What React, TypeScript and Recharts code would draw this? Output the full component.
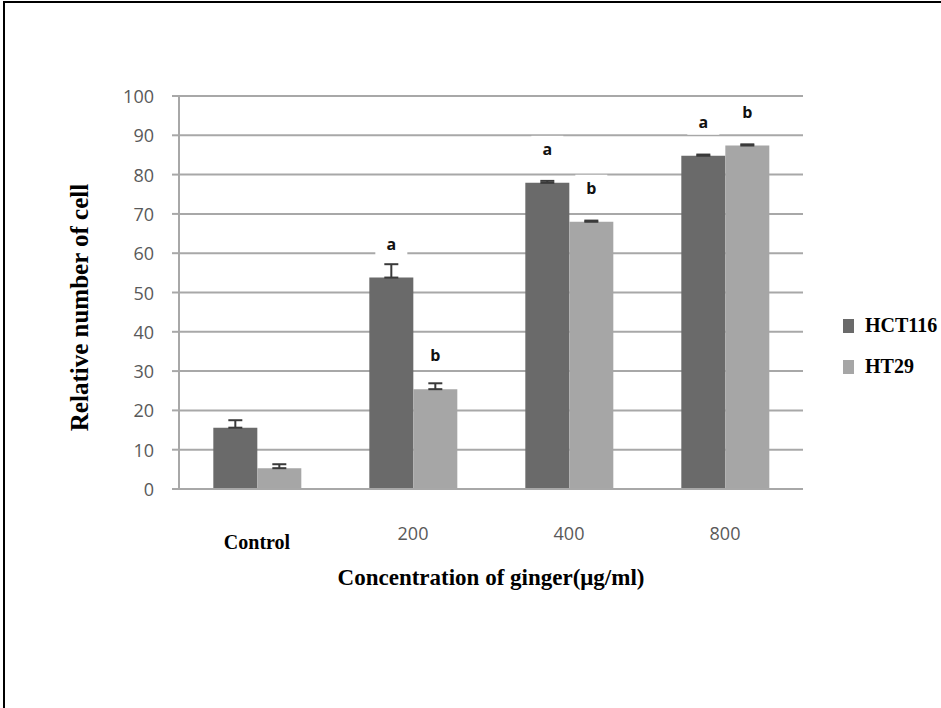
import React from 'react';
import { BarChart, Bar, XAxis, YAxis, CartesianGrid, ErrorBar, LabelList } from 'recharts';

// Concentration groups
const categories = ['Control', '200', '400', '800'];
// Relative number of cells per cell line
const hct116 = [15.6, 53.8, 77.9, 84.8];
const ht29 = [5.3, 25.4, 68.0, 87.4];
// Upper error (SD) per bar
const hct116Err = [1.9, 3.4, 0.5, 0.3];
const ht29Err = [1.0, 1.5, 0.3, 0.3];
// Significance letters
const hct116Sig = ['', 'a', 'a', 'a'];
const ht29Sig = ['', 'b', 'b', 'b'];
const yTicks = [0, 10, 20, 30, 40, 50, 60, 70, 80, 90, 100];
const seriesNames = ['HCT116', 'HT29'];

const data = categories.map((c, i) => ({
  name: c,
  hct: hct116[i],
  ht: ht29[i],
  hctErr: [0, hct116Err[i]],
  htErr: [0, ht29Err[i]],
  hctSig: hct116Sig[i],
  htSig: ht29Sig[i],
}));

const DARK = '#6a6a6a';
const LIGHT = '#a6a6a6';
const GRID = '#a8a8a8';
const SERIF = '"Liberation Serif", "Times New Roman", serif';
const SANS = '"Open Sans", "Noto Sans", sans-serif';

const SigLabel = (props: any) => {
  const { x, y, width, value } = props;
  if (!value) return null;
  const cx = x + width / 2;
  const cy = y - 34;
  return (
    <g>
      <rect x={cx - 16} y={cy - 13} width={32} height={26} fill="#fff" />
      <text x={cx} y={cy} textAnchor="middle" dominantBaseline="central" fontFamily={SANS} fontWeight={700} fontSize={16} fill="#111">
        {value}
      </text>
    </g>
  );
};

const XTick = (props: any) => {
  const { x, y, payload } = props;
  if (payload.value === 'Control') {
    return (
      <text x={x} y={y + 45} textAnchor="middle" dominantBaseline="central" fontFamily={SERIF} fontWeight={700} fontSize={20} fill="#000">
        {payload.value}
      </text>
    );
  }
  return (
    <text x={x} y={y + 36} textAnchor="middle" dominantBaseline="central" fontFamily={SANS} fontSize={18} fill="#595959">
      {payload.value}
    </text>
  );
};

const YTick = (props: any) => {
  const { x, y, payload } = props;
  return (
    <text x={x - 16} y={y} textAnchor="end" dominantBaseline="central" fontFamily={SANS} fontSize={18} fill="#595959">
      {payload.value}
    </text>
  );
};

const YTitle = (props: any) => {
  const { viewBox } = props;
  const cx = viewBox.x - 40;
  const cy = viewBox.y + viewBox.height / 2 + 15;
  return (
    <text x={cx} y={cy} transform={`rotate(-90 ${cx} ${cy})`} textAnchor="middle" dominantBaseline="central" fontFamily={SERIF} fontWeight={700} fontSize={25} fill="#000">
      Relative number of cell
    </text>
  );
};

const XTitle = (props: any) => {
  const { viewBox } = props;
  const cx = viewBox.x + viewBox.width / 2;
  const cy = viewBox.y + 88;
  return (
    <text x={cx} y={cy} textAnchor="middle" dominantBaseline="central" fontFamily={SERIF} fontWeight={700} fontSize={23} fill="#000">
      Concentration of ginger(μg/ml)
    </text>
  );
};

const ChartLegend = () => {
  const colors = [DARK, LIGHT];
  return (
    <div style={{ position: 'absolute', left: 843, top: 305, width: 98 }}>
      {seriesNames.map((label, i) => (
        <div key={label} style={{ display: 'flex', alignItems: 'center', height: 41 }}>
          <div style={{ width: 11, height: 14, background: colors[i], marginRight: 11 }} />
          <span style={{ fontFamily: SERIF, fontWeight: 700, fontSize: 20, color: '#000' }}>{label}</span>
        </div>
      ))}
    </div>
  );
};

export default function App() {
  return (
    <div style={{ position: 'absolute', left: 0, top: 0, width: 941, height: 708, background: '#fff' }}>
      <div style={{ position: 'absolute', left: 3, top: 1, width: 938, height: 707, borderLeft: '2px solid #000', borderTop: '2px solid #000' }} />
      <BarChart
        width={941}
        height={708}
        data={data}
        margin={{ top: 96, right: 138, bottom: 189, left: 119 }}
        barCategoryGap="22%"
        barGap={0}
      >
        <CartesianGrid vertical={false} stroke={GRID} strokeWidth={2} />
        <XAxis
          dataKey="name"
          height={30}
          axisLine={{ stroke: GRID, strokeWidth: 2 }}
          tickLine={false}
          tick={<XTick />}
          interval={0}
          label={<XTitle />}
        />
        <YAxis
          width={60}
          domain={[0, 100]}
          ticks={yTicks}
          interval={0}
          axisLine={{ stroke: GRID, strokeWidth: 2 }}
          tickLine={{ stroke: GRID, strokeWidth: 2 }}
          tickSize={7}
          tick={<YTick />}
          label={<YTitle />}
        />
        <Bar dataKey="hct" name={seriesNames[0]} fill={DARK} isAnimationActive={false}>
          <ErrorBar dataKey="hctErr" width={7} stroke="#3a3a3a" strokeWidth={2} direction="y" />
          <LabelList dataKey="hctSig" content={<SigLabel />} />
        </Bar>
        <Bar dataKey="ht" name={seriesNames[1]} fill={LIGHT} isAnimationActive={false}>
          <ErrorBar dataKey="htErr" width={7} stroke="#3a3a3a" strokeWidth={2} direction="y" />
          <LabelList dataKey="htSig" content={<SigLabel />} />
        </Bar>
      </BarChart>
      <ChartLegend />
    </div>
  );
}
